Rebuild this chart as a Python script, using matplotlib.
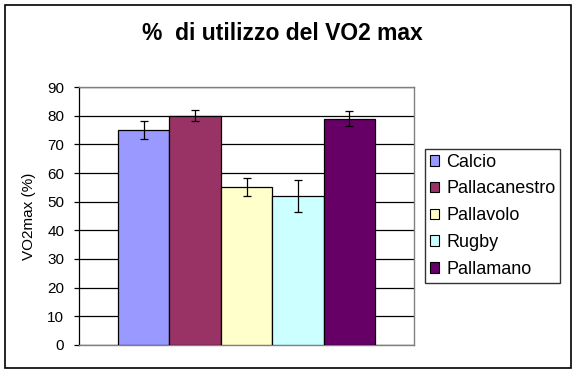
import matplotlib
matplotlib.use("Agg")
import matplotlib.pyplot as plt
from matplotlib.patches import Rectangle, Patch

categories = ["Calcio", "Pallacanestro", "Pallavolo", "Rugby", "Pallamano"]
values = [75, 80, 55, 52, 79]
errors = [3.1, 2.0, 3.1, 5.6, 2.6]
colors = ["#9999FF", "#993366", "#FFFFCC", "#CCFFFF", "#660066"]
yticks = [0, 10, 20, 30, 40, 50, 60, 70, 80, 90]
title = "%  di utilizzo del VO2 max"
ylabel = "VO2max (%)"

plt.rcParams['font.family'] = ['Liberation Sans', 'DejaVu Sans']

W, H = 579, 375
fig = plt.figure(figsize=(W / 100, H / 100), dpi=100)
fig.patch.set_facecolor("white")

# outer border
fig.patches.append(Rectangle((5 / W, 1 - 368 / H), 566 / W, 363 / H,
                             transform=fig.transFigure, fill=False,
                             edgecolor="black", linewidth=1.2))

ax = fig.add_axes([79 / W, 1 - 345 / H, 335 / W, 258 / H])
ax.set_facecolor("white")
xs = list(range(len(categories)))
ax.bar(xs, values, width=1.0, color=colors, edgecolor="black", linewidth=0.9, zorder=3)
ax.errorbar(xs, values, yerr=errors, fmt="none", ecolor="black",
            elinewidth=0.9, capsize=3, capthick=0.9, zorder=4)

ax.set_xlim(-1.26, 5.26)
ax.set_ylim(0, 90)
ax.set_yticks(yticks)
ax.set_yticklabels([str(t) for t in yticks], fontsize=11)
ax.set_xticks([])
ax.yaxis.grid(True, color="black", linewidth=0.9, zorder=0)
ax.set_axisbelow(True)
for s in ["top", "right", "bottom"]:
    ax.spines[s].set_color("#808080")
    ax.spines[s].set_linewidth(1.0)
ax.spines["left"].set_color("black")
ax.spines["left"].set_linewidth(0.9)
ax.tick_params(axis="y", direction="out", length=3.6, width=0.9, pad=7, colors="black")
ax.set_ylabel(ylabel, fontsize=11, labelpad=8)

fig.text(282 / W, 1 - 33 / H, title, ha="center", va="center",
         fontsize=16.5, fontweight="bold")

handles = [Patch(facecolor=c, edgecolor="black", linewidth=0.8) for c in colors]
leg = fig.legend(handles, categories, loc="upper left",
                 bbox_to_anchor=(425 / W, 1 - 149 / H),
                 fontsize=13, frameon=True, fancybox=False,
                 edgecolor="black", handlelength=0.55, handleheight=0.55,
                 handletextpad=0.39, labelspacing=0.55, borderpad=0.25,
                 borderaxespad=0)
leg.get_frame().set_linewidth(1.0)

fig.savefig("out.png", dpi=100)
